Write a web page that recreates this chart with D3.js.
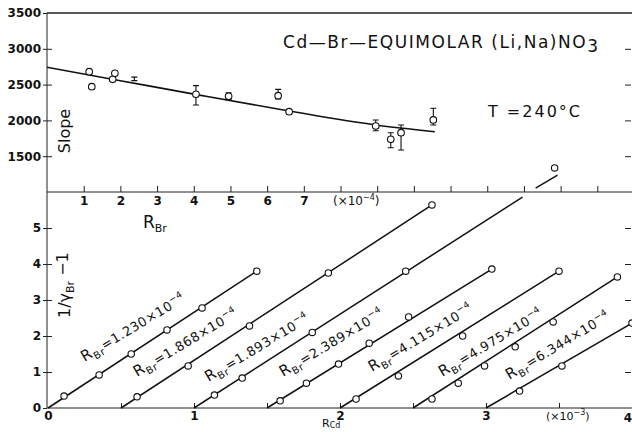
<!DOCTYPE html>
<html>
<head>
<meta charset="utf-8">
<script src="https://cdn.jsdelivr.net/npm/d3@7"></script>
<style>
  body { margin: 0; background: #fff; }
  text { font-family: "DejaVu Sans", sans-serif; fill: #111; }
  .axis path, .axis line { stroke: #222; stroke-width: 1; }
  .axis text { font-size: 12px; font-weight: bold; font-family: "DejaVu Sans", sans-serif; fill: #111; }
</style>
</head>
<body>
<div id="chart"></div>
<script>
// upper panel: slope against R_Br (x 10^-4)
const slopeRBr  = [1.15, 1.22, 1.79, 1.85, 2.38, 4.06, 4.95, 6.30, 6.60, 8.96, 9.37, 9.65, 10.53];
const slopeVal  = [2680, 2471, 2574, 2658, 2578, 2364, 2337, 2345, 2122, 1922, 1736, 1828, 2006];
const slopeLo   = [null, null, null, null, 2555, 2215, 2290, 2300, null, 1856, 1619, 1587, 1936];
const slopeHi   = [null, null, null, null, 2605, 2485, 2387, 2434, null, 2006, 1828, 1936, 2169];
const slopeOpen = [true, true, true, true, false, true, true, true, true, true, true, true, true];
const fitRBr    = [0, 2, 4.08, 6.6, 8.96, 10.57];
const fitSlope  = [2742, 2555, 2360, 2131, 1936, 1842];
const topYTicks = [1500, 2000, 2500, 3000, 3500];

// lower panel: 1/gamma_Br - 1 against R_Cd (x 10^-3)
const rBrNames  = ["1.230", "1.868", "1.893", "2.389", "4.115", "4.975", "6.344"];
const lineStart = [0, 0.5, 1.0, 1.5, 2.0, 2.5, 3.0];
const lineEndX  = [1.43, 2.63, 3.25, 3.04, 3.50, 3.90, 4.00];
const lineEndY  = [3.80, 5.64, 5.86, 3.86, 3.80, 3.64, 2.36];
const ptRCd = [
  [0.11, 0.35, 0.57, 0.815, 1.055, 1.43],
  [0.61, 0.96, 1.38, 1.92, 2.63],
  [1.14, 1.33, 1.81, 2.45, 3.47],
  [1.59, 1.77, 1.99, 2.20, 2.47, 3.04],
  [2.11, 2.40, 2.84, 3.50],
  [2.63, 2.81, 2.99, 3.20, 3.46, 3.90],
  [3.23, 3.52, 4.00]
];
const ptGamma = [
  [0.33, 0.92, 1.50, 2.17, 2.78, 3.80],
  [0.31, 1.17, 2.28, 3.75, 5.64],
  [0.36, 0.83, 2.10, 3.80, 6.67],
  [0.20, 0.69, 1.22, 1.80, 2.53, 3.86],
  [0.25, 0.89, 2.00, 3.80],
  [0.25, 0.69, 1.17, 1.70, 2.39, 3.64],
  [0.47, 1.17, 2.36]
];
// the 1.893 line runs on above the panel border
const extraRCd   = [3.34, 3.49];
const extraGamma = [6.11, 6.47];
const labelRCd   = [0.25, 0.61, 1.10, 1.61, 2.22, 2.70, 3.16];
const labelGamma = [1.28, 0.86, 0.72, 0.86, 1.00, 0.86, 0.78];

const width = 632, height = 432;

const svg = d3.select("#chart")
  .append("svg")
  .attr("width", width)
  .attr("height", height);

const xTop = d3.scaleLinear().domain([0, 16]).range([47, 634]);
const yTop = d3.scaleLinear().domain([1000, 3500]).range([192, 13]);
const xBot = d3.scaleLinear().domain([0, 4]).range([48, 632]);
const yBot = d3.scaleLinear().domain([0, 6]).range([408, 192]);

// frame line on top
svg.append("line").attr("x1", 47).attr("x2", width).attr("y1", yTop(3500)).attr("y2", yTop(3500))
  .attr("stroke", "#222").attr("stroke-width", 1.4);

// upper panel axes
svg.append("g")
  .attr("class", "axis")
  .attr("transform", "translate(47,0)")
  .call(d3.axisLeft(yTop).tickValues(topYTicks).tickSize(4).tickPadding(2).tickFormat(d3.format("d")))
  .call(g => g.select(".domain").remove());
svg.append("g")
  .attr("class", "axis")
  .attr("transform", "translate(47,0)")
  .call(d3.axisRight(yTop).tickValues(topYTicks.slice(0, 4)).tickSize(5).tickFormat(""))
  .call(g => g.select(".domain").remove());
svg.append("g")
  .attr("class", "axis")
  .attr("transform", "translate(" + (width - 1) + ",0)")
  .call(d3.axisLeft(yTop).tickValues(topYTicks.slice(0, 4)).tickSize(6).tickFormat(""))
  .call(g => g.select(".domain").remove());

svg.append("g")
  .attr("class", "axis")
  .attr("transform", "translate(0," + yTop(1000) + ")")
  .call(d3.axisBottom(xTop).tickValues(d3.range(1, 16)).tickSize(-6).tickPadding(4)
    .tickFormat(d => d <= 7 ? d : ""))
  .call(g => g.select(".domain").attr("d", "M47,0H" + width));

// lower panel axes
svg.append("g")
  .attr("class", "axis")
  .attr("transform", "translate(47,0)")
  .call(d3.axisLeft(yBot).tickValues([0, 1, 2, 3, 4, 5]).tickSize(4).tickPadding(2).tickFormat(d3.format("d")))
  .call(g => g.select(".domain").attr("d", "M0," + yBot(0) + "V" + yTop(3500)));
svg.append("g")
  .attr("class", "axis")
  .attr("transform", "translate(47,0)")
  .call(d3.axisRight(yBot).tickValues([1, 2, 3, 4, 5]).tickSize(5).tickFormat(""))
  .call(g => g.select(".domain").remove());
svg.append("g")
  .attr("class", "axis")
  .attr("transform", "translate(" + (width - 1) + ",0)")
  .call(d3.axisLeft(yBot).tickValues([1, 2, 3, 4, 5]).tickSize(6).tickFormat(""))
  .call(g => g.select(".domain").remove());

svg.append("g")
  .attr("class", "axis")
  .attr("transform", "translate(0," + yBot(0) + ")")
  .call(d3.axisBottom(xBot).tickValues(d3.range(0.5, 4, 0.5)).tickSize(-5).tickFormat(""))
  .call(g => g.select(".domain").attr("d", "M47,0H" + width));
svg.append("g")
  .attr("class", "axis")
  .attr("transform", "translate(0," + yBot(0) + ")")
  .call(d3.axisBottom(xBot).tickValues([0, 1, 2, 3]).tickSize(0).tickPadding(3).tickFormat(d3.format("d")))
  .call(g => g.select(".domain").remove());
// last label sits right at the edge
svg.append("text")
  .attr("x", width)
  .attr("y", yBot(0) + 14)
  .attr("text-anchor", "end")
  .attr("font-size", 12)
  .attr("font-weight", "bold")
  .text("4");

// upper panel marks
svg.append("path")
  .datum(fitRBr.map((d, i) => [d, fitSlope[i]]))
  .attr("fill", "none")
  .attr("stroke", "#111")
  .attr("stroke-width", 1.6)
  .attr("d", d3.line().x(d => xTop(d[0])).y(d => yTop(d[1])).curve(d3.curveMonotoneX));

const bars = svg.append("g")
  .selectAll("g")
  .data(slopeRBr.map((d, i) => ({x: d, y: slopeVal[i], lo: slopeLo[i], hi: slopeHi[i], open: slopeOpen[i]})))
  .enter()
  .append("g")
  .attr("stroke", "#111")
  .attr("stroke-width", 1.1);

bars.filter(d => d.lo !== null)
  .append("path")
  .attr("fill", "none")
  .attr("d", d => {
    const x = xTop(d.x), a = yTop(d.hi), b = yTop(d.lo);
    return "M" + (x - 3) + "," + a + "H" + (x + 3) + "M" + x + "," + a + "V" + b + "M" + (x - 3) + "," + b + "H" + (x + 3);
  });

bars.filter(d => d.open)
  .append("circle")
  .attr("cx", d => xTop(d.x))
  .attr("cy", d => yTop(d.y))
  .attr("r", 3.3)
  .attr("fill", "#fff");

// lower panel marks
const lineGen = d3.line().x(d => xBot(d[0])).y(d => yBot(d[1]));

rBrNames.forEach((name, i) => {
  svg.append("path")
    .datum([[lineStart[i], 0], [lineEndX[i], lineEndY[i]]])
    .attr("fill", "none")
    .attr("stroke", "#111")
    .attr("stroke-width", 1.5)
    .attr("d", lineGen);

  svg.append("g")
    .selectAll("circle")
    .data(ptRCd[i].map((d, j) => [d, ptGamma[i][j]]))
    .enter()
    .append("circle")
    .attr("cx", d => xBot(d[0]))
    .attr("cy", d => yBot(d[1]))
    .attr("r", 3.2)
    .attr("fill", "#fff")
    .attr("stroke", "#111")
    .attr("stroke-width", 1.1);

  const t = svg.append("text")
    .attr("transform", "translate(" + xBot(labelRCd[i]) + "," + yBot(labelGamma[i]) + ") rotate(-31)")
    .attr("font-size", 13)
    .attr("letter-spacing", 0.6);
  t.append("tspan").attr("font-size", 15).text("R");
  t.append("tspan").attr("font-size", 10).attr("dy", 4).text("Br");
  t.append("tspan").attr("dy", -4).text("=" + name + "×10");
  t.append("tspan").attr("font-size", 9).attr("dy", -6).text("−4");
});

svg.append("path")
  .datum(extraRCd.map((d, i) => [d, extraGamma[i]]))
  .attr("fill", "none")
  .attr("stroke", "#111")
  .attr("stroke-width", 1.5)
  .attr("d", lineGen);

// annotations
const title = svg.append("text")
  .attr("x", 283)
  .attr("y", 48)
  .attr("font-size", 17)
  .attr("textLength", 315)
  .attr("lengthAdjust", "spacing");
title.append("tspan").text("Cd—Br—EQUIMOLAR (Li,Na)NO");
title.append("tspan").attr("dy", 4).text("3");

svg.append("text")
  .attr("x", 488)
  .attr("y", 117)
  .attr("font-size", 16)
  .attr("textLength", 92)
  .attr("lengthAdjust", "spacing")
  .text("T =240°C");

svg.append("text")
  .attr("transform", "translate(70,131) rotate(-90)")
  .attr("text-anchor", "middle")
  .attr("font-size", 16)
  .text("Slope");

const rbr = svg.append("text").attr("x", 143).attr("y", 228).attr("font-size", 17);
rbr.append("tspan").text("R");
rbr.append("tspan").attr("font-size", 11).attr("dy", 4).text("Br");

const e4 = svg.append("text").attr("x", 333).attr("y", 205).attr("font-size", 12).attr("fill", "#000");
e4.append("tspan").text("(×10");
e4.append("tspan").attr("font-size", 8).attr("dy", -5).text("−4");
e4.append("tspan").attr("dy", 5).text(")");

const e3 = svg.append("text").attr("x", 546).attr("y", 420).attr("font-size", 11).attr("fill", "#000");
e3.append("tspan").text("(×10");
e3.append("tspan").attr("font-size", 8).attr("dy", -5).text("−3");
e3.append("tspan").attr("dy", 5).text(")");

const gy = svg.append("text")
  .attr("transform", "translate(70,318) rotate(-90)")
  .attr("font-size", 16);
gy.append("tspan").text("1/γ");
gy.append("tspan").attr("font-size", 11).attr("dy", 4).text("Br");
gy.append("tspan").attr("dy", -6).text(" −1");

const rcd = svg.append("text").attr("x", 322).attr("y", 427).attr("font-size", 11);
rcd.append("tspan").text("R");
rcd.append("tspan").attr("font-size", 8).attr("dy", 1).text("Cd");
</script>
</body>
</html>
